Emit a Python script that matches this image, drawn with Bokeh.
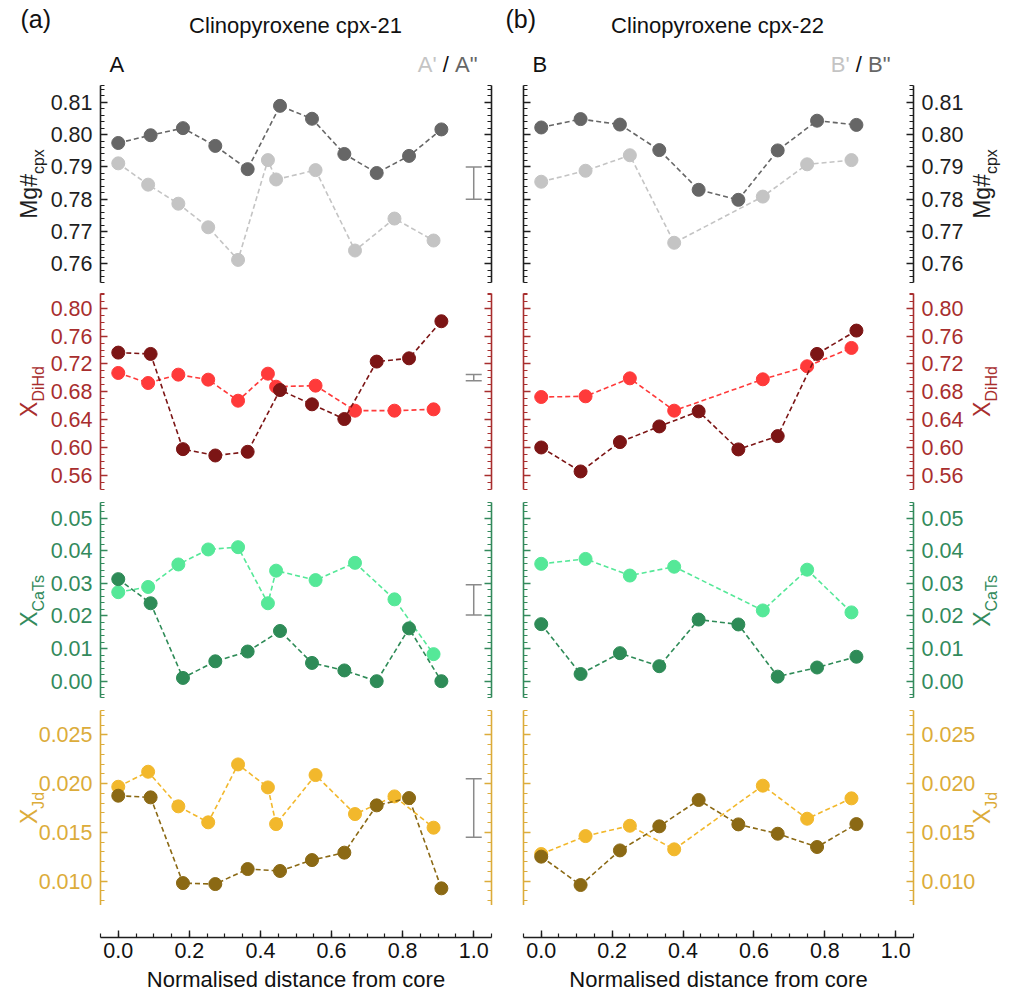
import math
from bokeh.plotting import figure
from bokeh.models import (Range1d, LinearAxis, FixedTicker, Label, Whisker, TeeHead,
                          ColumnDataSource, PrintfTickFormatter, CustomJSTickFormatter, GridBox)
from bokeh.layouts import row, column
from bokeh.embed import file_html
from bokeh.resources import INLINE

FONT = "Liberation Sans"

# ---------------- data ----------------
# normalised distance from core
x_A_outer = [0.0, 0.091, 0.182, 0.273, 0.364, 0.455, 0.545, 0.636, 0.727, 0.818, 0.909]   # A''
x_A_inner = [0.0, 0.084, 0.169, 0.253, 0.337, 0.421, 0.444, 0.555, 0.666, 0.777, 0.887]   # A'
x_B_outer = [0.0, 0.111, 0.222, 0.333, 0.444, 0.556, 0.667, 0.778, 0.889]                 # B''
x_B_inner = [0.0, 0.125, 0.25, 0.375, 0.625, 0.75, 0.875]                                  # B'

mg_A2 = [0.7974, 0.7998, 0.8020, 0.7965, 0.7893, 0.8089, 0.8049, 0.7940, 0.7881, 0.7934, 0.8016]
mg_A1 = [0.7911, 0.7845, 0.7786, 0.7713, 0.7612, 0.7921, 0.7861, 0.7890, 0.7641, 0.7740, 0.7672]
mg_B2 = [0.8022, 0.8048, 0.8031, 0.7952, 0.7829, 0.7798, 0.7951, 0.8043, 0.8030]
mg_B1 = [0.7854, 0.7888, 0.7936, 0.7665, 0.7808, 0.7908, 0.7921]

dihd_A2 = [0.7363, 0.7344, 0.5978, 0.5887, 0.5940, 0.6826, 0.6621, 0.6410, 0.7234, 0.7281, 0.7813]
dihd_A1 = [0.7071, 0.6927, 0.7047, 0.6975, 0.6673, 0.7061, 0.6874, 0.6889, 0.6530, 0.6530, 0.6549]
dihd_B2 = [0.6002, 0.5658, 0.6079, 0.6304, 0.6520, 0.5974, 0.6165, 0.7344, 0.7679]
dihd_B1 = [0.6726, 0.6736, 0.6994, 0.6530, 0.6980, 0.7167, 0.7430]

cats_A2 = [0.0313, 0.0239, 0.0010, 0.0061, 0.0091, 0.0154, 0.0056, 0.0033, 0.0000, 0.0162, 0.0000]
cats_A1 = [0.0273, 0.0289, 0.0358, 0.0404, 0.0411, 0.0239, 0.0339, 0.0310, 0.0363, 0.0251, 0.0083]
cats_B2 = [0.0175, 0.0022, 0.0086, 0.0046, 0.0189, 0.0174, 0.0014, 0.0042, 0.0075]
cats_B1 = [0.0360, 0.0375, 0.0324, 0.0351, 0.0217, 0.0342, 0.0211]

jd_A2 = [0.01875, 0.01858, 0.00979, 0.00969, 0.01123, 0.01103, 0.01215, 0.01291, 0.01776, 0.01851, 0.00925]
jd_A1 = [0.01967, 0.02121, 0.01766, 0.01602, 0.02196, 0.01960, 0.01584, 0.02087, 0.01687, 0.01868, 0.01547]
jd_B2 = [0.01250, 0.00959, 0.01314, 0.01561, 0.01831, 0.01581, 0.01485, 0.01349, 0.01584]
jd_B1 = [0.01277, 0.01461, 0.01567, 0.01325, 0.01978, 0.01639, 0.01848]

# analytical uncertainty bars (cpx-21 column, drawn at x = 1.0)
err_base = [1.0, 1.0, 1.0, 1.0]
err_lower = [0.780, 0.696, 0.0203, 0.0145]
err_upper = [0.790, 0.705, 0.0296, 0.0205]

# tick labels
mg_ticks = [0.76, 0.77, 0.78, 0.79, 0.80, 0.81]
dihd_ticks = [0.56, 0.60, 0.64, 0.68, 0.72, 0.76, 0.80]
cats_ticks = [0.00, 0.01, 0.02, 0.03, 0.04, 0.05]
jd_ticks = [0.010, 0.015, 0.020, 0.025]
x_ticks = [0.0, 0.2, 0.4, 0.6, 0.8, 1.0]

col_titles = ["Clinopyroxene cpx-21", "Clinopyroxene cpx-22"]
col_tags = ["(a)", "(b)"]
col_letters = ["A", "B"]
x_title = "Normalised distance from core"

# ---------------- styling / layout ----------------
W_PAGE, H_PAGE = 1013, 992
XR = (-0.05, 1.05)
X0 = [100, 523]          # frame left px per column
FW = [391, 390]          # frame width per column
TOPS = [85, 293, 502, 710]
FH = [197, 196, 195, 195]
BORD_T = [85, 6, 6, 6]
BORD_B = [5, 7, 7, 0]
TICK_FS = "21.5px"
MID = 0.36               # label anchor sits at the text box middle; baseline is this many ems below

panels = [
    dict(yr=(0.7542, 0.8152), ticks=mg_ticks, minor=0.002, fmt="%.2f",
         axis="#1e1e1e", dark="#666666", light="#c4c4c4",
         main="Mg#", sub="cpx", wm=1.945, ws=1.556),
    dict(yr=(0.5399, 0.8211), ticks=dihd_ticks, minor=0.01, fmt="%.2f",
         axis="#a82e2e", dark="#7c1515", light="#ff3a3a",
         main="X", sub="DiHd", wm=0.667, ws=2.222),
    dict(yr=(-0.0050, 0.0548), ticks=cats_ticks, minor=0.002, fmt="%.2f",
         axis="#338a5c", dark="#2e8b57", light="#55e898",
         main="X", sub="CaTs", wm=0.667, ws=2.389),
    dict(yr=(0.00749, 0.02749), ticks=jd_ticks, minor=0.001, fmt="%.3f",
         axis="#dcac3a", dark="#8b6914", light="#f2b82c",
         main="X", sub="Jd", wm=0.667, ws=1.056),
]
series = [
    dict(A2=mg_A2, A1=mg_A1, B2=mg_B2, B1=mg_B1),
    dict(A2=dihd_A2, A1=dihd_A1, B2=dihd_B2, B1=dihd_B1),
    dict(A2=cats_A2, A1=cats_A1, B2=cats_B2, B1=cats_B1),
    dict(A2=jd_A2, A1=jd_A1, B2=jd_B2, B1=jd_B1),
]


def minor_list(lo, hi, step):
    n0 = math.ceil(lo / step - 1e-9)
    n1 = math.floor(hi / step + 1e-9)
    return [round(i * step, 6) for i in range(n0, n1 + 1)] + [lo, hi]


def style_axis(ax, color, labels=True, fmt="%.2f"):
    ax.axis_line_color = color
    ax.axis_line_width = 1.6
    ax.major_tick_line_color = color
    ax.minor_tick_line_color = color
    ax.major_tick_line_width = 1.4
    ax.minor_tick_line_width = 1.2
    ax.major_tick_in = 7
    ax.major_tick_out = 0
    ax.minor_tick_in = 4
    ax.minor_tick_out = 0
    if labels:
        ax.formatter = PrintfTickFormatter(format=fmt)
        ax.major_label_text_font = FONT
        ax.major_label_text_font_size = TICK_FS
        ax.major_label_text_color = color
        ax.major_label_standoff = 8
    else:
        ax.formatter = CustomJSTickFormatter(code="return ''")
        ax.major_label_standoff = 0
        ax.major_label_text_font_size = "1px"


def base_figure(col, h, top, bottom, yr):
    left = 100 if col == 0 else 16
    right = 16 if col == 0 else 100
    p = figure(width=left + FW[col] + right, height=h,
               x_range=Range1d(*XR), y_range=Range1d(*yr),
               x_axis_type=None, y_axis_type=None, title=None,
               output_backend="svg", toolbar_location=None,
               min_border_left=left, min_border_right=right,
               min_border_top=top, min_border_bottom=bottom)
    p.outline_line_color = None
    p.background_fill_color = "white"
    p.border_fill_color = "white"
    return p


def make_panel(col, k):
    pd = panels[k]
    sd = series[k]
    p = base_figure(col, BORD_T[k] + FH[k] + BORD_B[k], BORD_T[k], BORD_B[k], pd["yr"])

    ticker = FixedTicker(ticks=pd["ticks"], minor_ticks=minor_list(pd["yr"][0], pd["yr"][1], pd["minor"]))
    ax_l = LinearAxis(ticker=ticker)
    ax_r = LinearAxis(ticker=ticker)
    style_axis(ax_l, pd["axis"], labels=(col == 0), fmt=pd["fmt"])
    style_axis(ax_r, pd["axis"], labels=(col == 1), fmt=pd["fmt"])
    p.add_layout(ax_l, "left")
    p.add_layout(ax_r, "right")

    if col == 0:
        pairs = ((x_A_inner, sd["A1"], pd["light"]), (x_A_outer, sd["A2"], pd["dark"]))
    else:
        pairs = ((x_B_inner, sd["B1"], pd["light"]), (x_B_outer, sd["B2"], pd["dark"]))

    for xs, ys, c in pairs:
        p.line(xs, ys, line_color=c, line_width=1.6, line_dash="5 3")
        p.scatter(xs, ys, size=13, fill_color=c, line_color=c)

    if col == 0:
        src = ColumnDataSource(dict(base=[err_base[k]], lower=[err_lower[k]], upper=[err_upper[k]]))
        p.add_layout(Whisker(source=src, base="base", lower="lower", upper="upper",
                             dimension="height", line_color="#8a8a8a", line_width=1.5,
                             upper_head=TeeHead(size=16, line_color="#8a8a8a", line_width=1.5),
                             lower_head=TeeHead(size=16, line_color="#8a8a8a", line_width=1.5)))
    return p


def make_xaxis(col):
    p = base_figure(col, 32 + 55, 0, 55, (0, 1))
    ax = LinearAxis(ticker=FixedTicker(ticks=x_ticks, minor_ticks=minor_list(XR[0], XR[1], 0.05)))
    style_axis(ax, "#1e1e1e", labels=True, fmt="%.1f")
    ax.major_label_text_color = "#111111"
    ax.major_label_standoff = 5
    p.add_layout(ax, "below")
    return p


# ---------------- text overlay (page pixel coordinates) ----------------
ov = figure(width=W_PAGE, height=H_PAGE, x_range=Range1d(0, W_PAGE), y_range=Range1d(H_PAGE, 0),
            x_axis_type=None, y_axis_type=None, title=None,
            output_backend="svg", toolbar_location=None,
            min_border_left=0, min_border_right=0, min_border_top=0, min_border_bottom=0)
ov.outline_line_color = None
ov.background_fill_color = None
ov.border_fill_color = None


def txt(x, y, text, size, color, align="left", angle=0.0):
    # (x, y) is the wanted baseline point; the label anchor is the text-box middle
    if angle == 0.0:
        y = y - MID * size
    else:
        x = x - MID * size
    ov.add_layout(Label(x=x, y=y, text=text, text_font=FONT, text_font_size=f"{size}px",
                        text_color=color, text_align=align, text_baseline="alphabetic",
                        angle=angle))


for col in (0, 1):
    tag_x = 20 if col == 0 else 505
    title_cx = 295 if col == 0 else 717
    let_x = 109 if col == 0 else 532
    right_edge = 477 if col == 0 else 890
    L = col_letters[col]
    txt(tag_x, 27, col_tags[col], 25, "#111111")
    txt(title_cx, 33, col_titles[col], 22, "#111111", align="center")
    txt(let_x, 72, L, 22, "#111111")
    w2 = (0.667 + 0.355) * 22
    wsl = 0.834 * 22
    txt(right_edge - w2, 72, L + '"', 22, panels[0]["dark"])
    txt(right_edge - w2 - wsl / 2, 72, "/", 22, "#111111", align="center")
    txt(right_edge - w2 - wsl, 72, L + "'", 22, panels[0]["light"], align="right")
    txt(X0[col] + FW[col] / 2.0, 987, x_title, 22, "#111111", align="center")

    for k, pd in enumerate(panels):
        fm, fs = 23, 16
        wm = pd["wm"] * fm
        ws = pd["ws"] * fs
        center = TOPS[k] + FH[k] / 2.0
        start = center + (wm + ws) / 2.0
        bx = 37 if col == 0 else 990
        txt(bx, start, pd["main"], fm, pd["axis"], angle=math.pi / 2)
        txt(bx + 7, start - wm, pd["sub"], fs, pd["axis"], angle=math.pi / 2)

cols = []
for col in (0, 1):
    figs = [make_panel(col, k) for k in range(4)] + [make_xaxis(col)]
    cols.append(column(*figs, spacing=0))

main = row(*cols, spacing=0)
page = GridBox(children=[(main, 0, 0), (ov, 0, 0)], width=W_PAGE, height=H_PAGE)
open("out.html", "w").write(file_html(page, INLINE, "cpx profiles"))
